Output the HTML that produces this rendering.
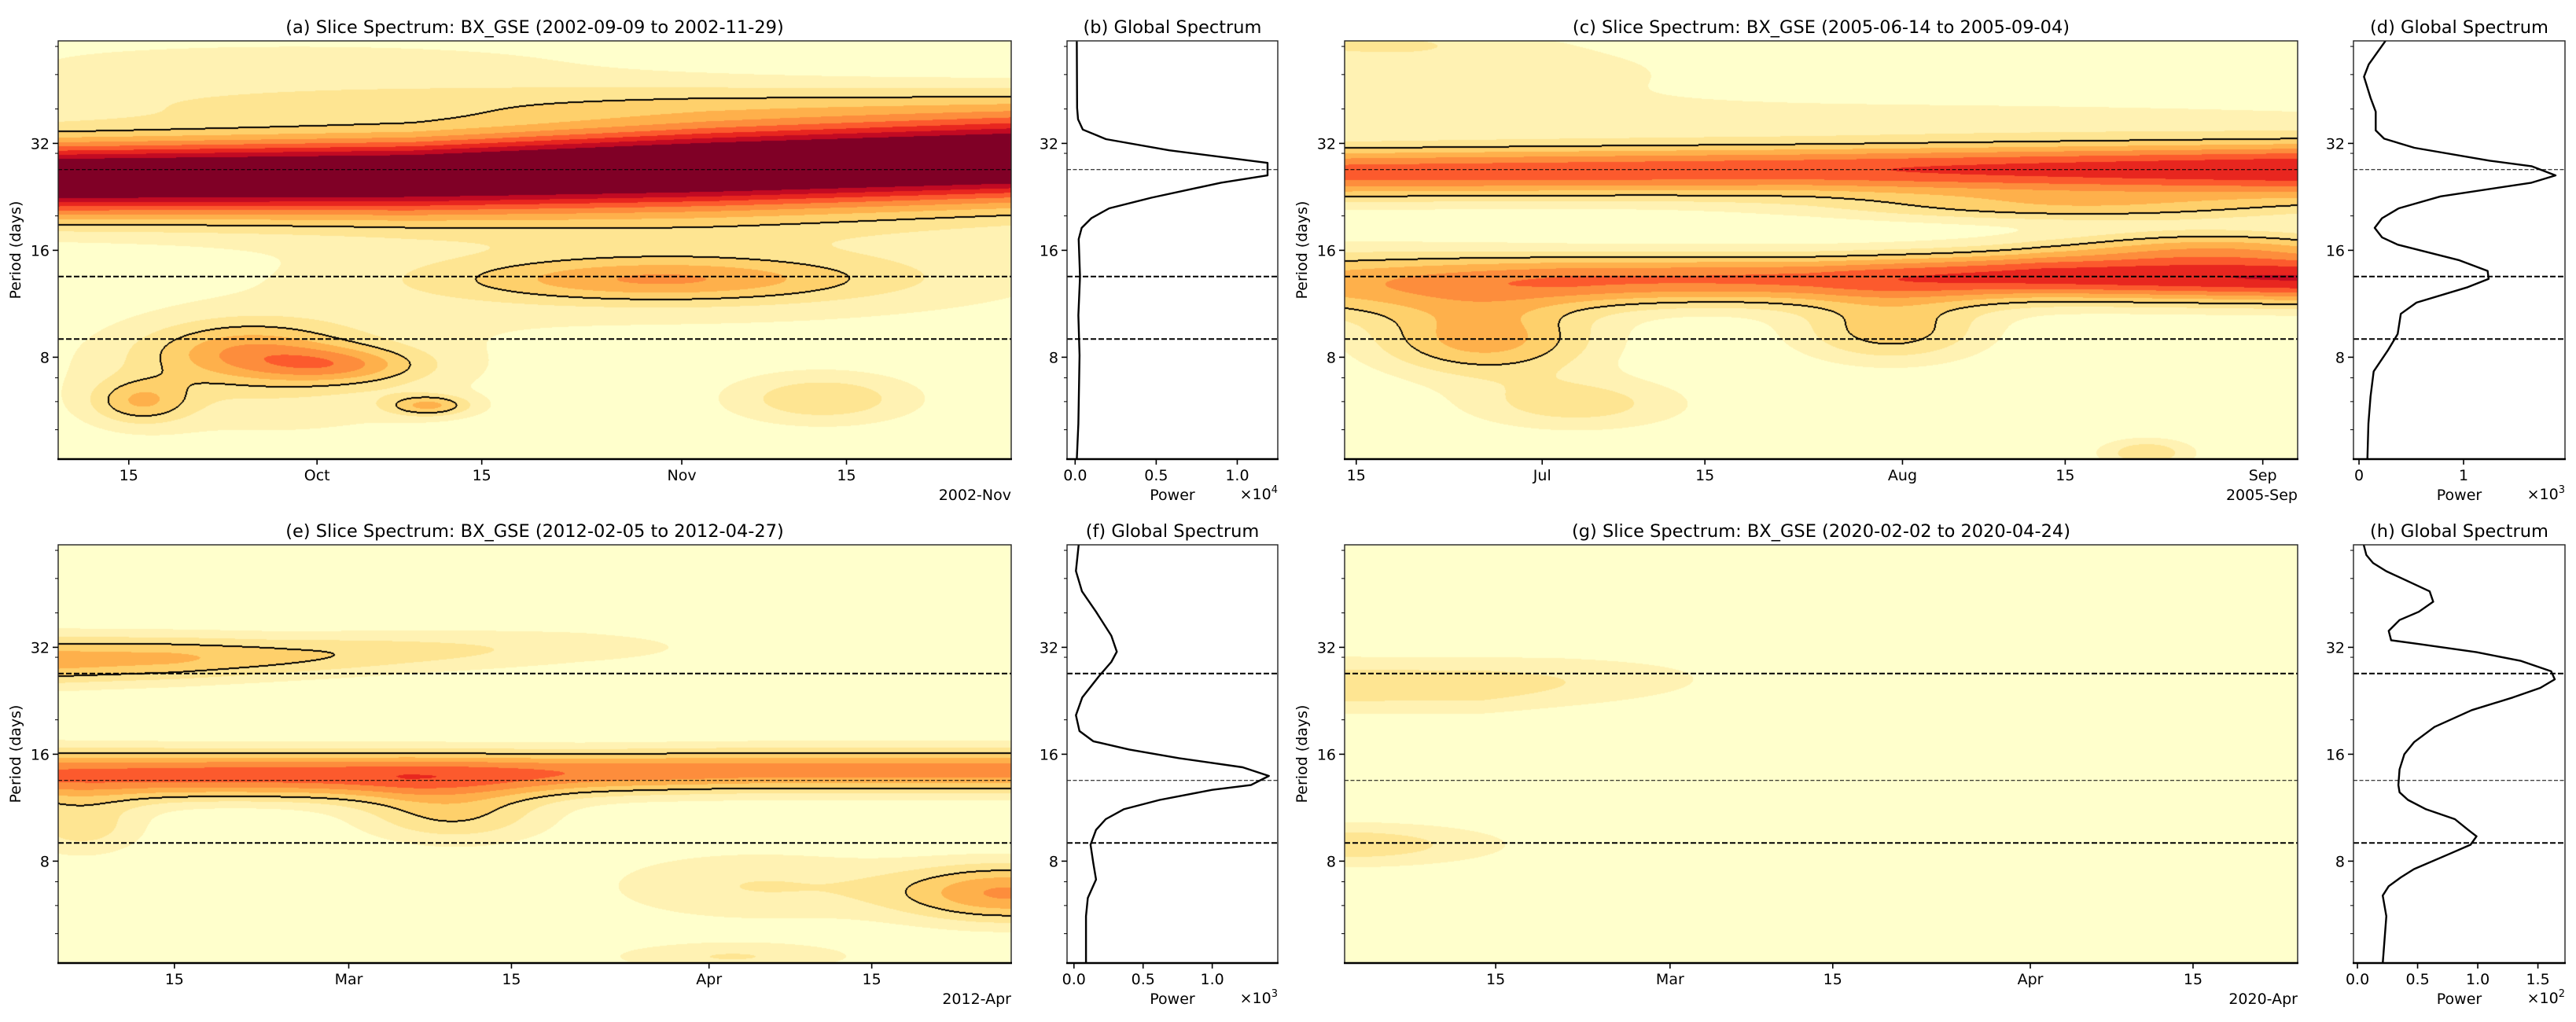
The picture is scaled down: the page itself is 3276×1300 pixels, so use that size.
<!DOCTYPE html>
<html><head><meta charset="utf-8">
<style>
body{margin:0;background:#fff;width:3276px;height:1300px;overflow:hidden;position:relative;font-family:"DejaVu Sans","Liberation Sans",sans-serif}
canvas{position:absolute}
svg{position:absolute;left:0;top:0}
</style></head>
<body>
<canvas id="cv-a" width="1212" height="532" style="left:74px;top:52px"></canvas>
<canvas id="cv-c" width="1212" height="532" style="left:1710px;top:52px"></canvas>
<canvas id="cv-e" width="1212" height="532" style="left:74px;top:693px"></canvas>
<canvas id="cv-g" width="1212" height="532" style="left:1710px;top:693px"></canvas>
<svg id="fig" width="3276" height="1300"></svg>
<script>
// ---------- DATA ----------
// Panel (a) bands: time (days from start), period (days), amplitude, width (octaves)
const aBandT=[0,30,55,81];
const aBandPeriod=[25.5,26,27.5,29];
const aBandAmp=[1.15,1.15,1.2,1.2];
const aBandWidth=[0.26,0.27,0.29,0.30];
// Panel (a) blobs
const aBlobT=[51,54,16,7,24,31.5,18,65,40,20];
const aBlobPeriod=[13.2,14,8.3,6.0,7.6,5.85,7,6.1,42,55];
const aBlobAmp=[0.32,0.2,0.34,0.3,0.3,0.34,0.18,0.28,0.2,0.12];
const aBlobSpan=[12,25,6,3,5,2.5,14,6,40,30];
const aBlobWidth=[0.14,0.4,0.2,0.15,0.12,0.07,0.45,0.18,0.15,0.2];

// Panel (c)
const cBand1T=[0,40,82];
const cBand1Period=[26.5,27,27];
const cBand1Amp=[0.65,0.68,0.8];
const cBand1Width=[0.18,0.18,0.2];
const cBand2T=[0,20,40,60,82];
const cBand2Period=[13,13.2,13.3,13.5,13.3];
const cBand2Amp=[0.45,0.6,0.62,0.75,0.8];
const cBand2Width=[0.22,0.18,0.17,0.17,0.17];
const cBlobT=[12,47,20,69,10,0,40,75,62];
const cBlobPeriod=[9.0,9.5,5.9,4.3,50,62,38,16.5,21];
const cBlobAmp=[0.45,0.35,0.25,0.28,0.18,0.15,0.15,0.3,0.25];
const cBlobSpan=[7,6,7,3,15,10,40,10,15];
const cBlobWidth=[0.25,0.22,0.18,0.1,0.25,0.1,0.12,0.12,0.1];

// Panel (e)
const eBand1T=[0,10,20,30,45,60];
const eBand1Period=[29.5,29.8,30.2,31,32,32];
const eBand1Amp=[0.45,0.42,0.33,0.25,0.15,0.05];
const eBand1Width=[0.17,0.16,0.15,0.15,0.15,0.15];
const eBand2T=[0,15,30,45,60,82];
const eBand2Period=[14,14,14,14.2,14.4,14.4];
const eBand2Amp=[0.62,0.66,0.66,0.58,0.55,0.55];
const eBand2Width=[0.17,0.16,0.16,0.15,0.15,0.15];
const eBlobT=[34,82,60,58,2];
const eBlobPeriod=[10.8,6.5,6.8,4.3,10];
const eBlobAmp=[0.3,0.5,0.2,0.2,0.25];
const eBlobSpan=[6,7,10,8,4];
const eBlobWidth=[0.2,0.2,0.25,0.1,0.2];

// Panel (g)
const gBandT=[0,12,19,30,40];
const gBandPeriod=[25,25,25.5,26,26];
const gBandAmp=[0.27,0.26,0.2,0.1,0];
const gBandWidth=[0.19,0.19,0.19,0.19,0.19];
const gBlobT=[0];
const gBlobPeriod=[8.9];
const gBlobAmp=[0.27];
const gBlobSpan=[9.8];
const gBlobWidth=[0.15];

// Global spectra
const bPeriod=[62,40.3,37.4,35.0,32.9,30.6,28.2,26.0,24.8,22.5,21.0,19.7,18.5,17.2,13.5,10.5,8.1,5.2,4.12];
const bPower=[0.01,0.012,0.018,0.047,0.19,0.58,1.187,1.187,0.90,0.47,0.21,0.10,0.04,0.022,0.03,0.02,0.027,0.02,0.01];
const dPeriod=[62.2,53.4,49.3,43.0,39.3,34.8,33,31.1,28.6,27.6,26.0,24.8,22.7,21.0,19.7,18.5,17.4,16.6,15.0,14.0,13.3,12.6,11.4,10.6,9.3,8.4,7.3,6.2,5.2,4.12];
const dPower=[0.253,0.093,0.048,0.11,0.16,0.16,0.24,0.53,1.25,1.65,1.88,1.65,0.78,0.38,0.22,0.15,0.22,0.37,0.96,1.23,1.24,1.04,0.55,0.40,0.37,0.28,0.14,0.11,0.09,0.08];
const fPeriod=[62.2,52.5,46.0,40.3,34.5,31.1,29.1,26.5,23.1,20.6,18.6,17.4,16.5,15.6,14.7,13.9,13.1,12.7,11.9,11.2,10.5,9.8,8.9,7.9,7.1,6.3,5.6,4.12];
const fPower=[0.034,0.014,0.058,0.16,0.27,0.31,0.27,0.18,0.06,0.014,0.04,0.14,0.40,0.76,1.22,1.41,1.28,1.00,0.62,0.36,0.23,0.16,0.12,0.14,0.16,0.10,0.087,0.087];
const hPeriod=[62.2,58.2,55.3,52.4,46.0,43.0,40.3,38.2,35.6,33.5,32.7,31,29.3,27.4,26.0,24.6,23.1,21.3,19.1,17.3,16.0,14.5,13.1,12.5,11.9,11.2,10.5,9.8,9.4,8.9,8.4,7.6,7.2,6.8,6.4,5.6,4.12];
const hPower=[0.052,0.074,0.13,0.24,0.60,0.63,0.51,0.35,0.26,0.28,0.51,0.99,1.36,1.61,1.64,1.52,1.29,0.95,0.64,0.47,0.39,0.35,0.34,0.35,0.42,0.57,0.81,0.92,0.99,0.94,0.77,0.47,0.36,0.26,0.21,0.24,0.21];

// Ticks
const periodTicks=[32,16,8];
const periodMinor=[5,6,7,20,30,40,50,60];
const refPeriods=[27,13.5,9];
const aTickDays=[6,22,36,53,67];
const aTickLabels=['15','Oct','15','Nov','15'];
const cTickDays=[1,17,31,48,62,79];
const cTickLabels=['15','Jul','15','Aug','15','Sep'];
const eTickDays=[10,25,39,56,70];
const eTickLabels=['15','Mar','15','Apr','15'];
const gTickDays=[13,28,42,59,73];
const gTickLabels=['15','Mar','15','Apr','15'];
const bTicks=[0,0.5,1.0], bTickLabels=['0.0','0.5','1.0'];
const dTicks=[0,1], dTickLabels=['0','1'];
const fTicks=[0,0.5,1.0], fTickLabels=['0.0','0.5','1.0'];
const hTicks=[0,0.5,1.0,1.5], hTickLabels=['0.0','0.5','1.0','1.5'];

// ---------- LAYOUT ----------
const NS='http://www.w3.org/2000/svg';
const svg=document.getElementById('fig');
const rowTop=[52,693], PH=532, LTOP=Math.log2(62.2), OCT=136, TH=0.3;
const PAL=['#ffffcc','#fff2b3','#fee592','#fed06b','#feb04b','#fd8d3c','#fc5a2d','#e8261f','#c20a23','#800026'].map(h=>[parseInt(h.slice(1,3),16),parseInt(h.slice(3,5),16),parseInt(h.slice(5,7),16)]);
function yOf(row,p){return rowTop[row]+(LTOP-Math.log2(p))*OCT;}
function mk(tag,attrs,parent){const e=document.createElementNS(NS,tag);for(const k in attrs)e.setAttribute(k,attrs[k]);(parent||svg).appendChild(e);return e;}
function interp(xs,ys,t){if(t<=xs[0])return ys[0];for(let i=1;i<xs.length;i++){if(t<=xs[i]){const f=(t-xs[i-1])/(xs[i]-xs[i-1]);return ys[i-1]+f*(ys[i]-ys[i-1]);}}return ys[ys.length-1];}

const heatPanels=[
 {id:'a',x:74,row:0,span:81,thin:0,bands:[[aBandT,aBandPeriod,aBandAmp,aBandWidth]],blobs:[aBlobT,aBlobPeriod,aBlobAmp,aBlobSpan,aBlobWidth],
  title:'(a) Slice Spectrum: BX_GSE (2002-09-09 to 2002-11-29)',ticks:aTickDays,labels:aTickLabels,offset:'2002-Nov'},
 {id:'c',x:1710,row:0,span:82,thin:0,bands:[[cBand1T,cBand1Period,cBand1Amp,cBand1Width],[cBand2T,cBand2Period,cBand2Amp,cBand2Width]],blobs:[cBlobT,cBlobPeriod,cBlobAmp,cBlobSpan,cBlobWidth],
  title:'(c) Slice Spectrum: BX_GSE (2005-06-14 to 2005-09-04)',ticks:cTickDays,labels:cTickLabels,offset:'2005-Sep'},
 {id:'e',x:74,row:1,span:82,thin:1,bands:[[eBand1T,eBand1Period,eBand1Amp,eBand1Width],[eBand2T,eBand2Period,eBand2Amp,eBand2Width]],blobs:[eBlobT,eBlobPeriod,eBlobAmp,eBlobSpan,eBlobWidth],
  title:'(e) Slice Spectrum: BX_GSE (2012-02-05 to 2012-04-27)',ticks:eTickDays,labels:eTickLabels,offset:'2012-Apr'},
 {id:'g',x:1710,row:1,span:82,thin:1,bands:[[gBandT,gBandPeriod,gBandAmp,gBandWidth]],blobs:[gBlobT,gBlobPeriod,gBlobAmp,gBlobSpan,gBlobWidth],
  title:'(g) Slice Spectrum: BX_GSE (2020-02-02 to 2020-04-24)',ticks:gTickDays,labels:gTickLabels,offset:'2020-Apr'}
];
const globPanels=[
 {id:'b',x:1357,w:268,row:0,thin:0,xmin:-0.05,xmax:1.25,per:bPeriod,pow:bPower,ticks:bTicks,labels:bTickLabels,exp:'4',title:'(b) Global Spectrum'},
 {id:'d',x:2993,w:269,row:0,thin:0,xmin:-0.053,xmax:1.97,per:dPeriod,pow:dPower,ticks:dTicks,labels:dTickLabels,exp:'3',title:'(d) Global Spectrum'},
 {id:'f',x:1357,w:268,row:1,thin:1,xmin:-0.05,xmax:1.474,per:fPeriod,pow:fPower,ticks:fTicks,labels:fTickLabels,exp:'3',title:'(f) Global Spectrum'},
 {id:'h',x:2993,w:269,row:1,thin:1,xmin:-0.033,xmax:1.725,per:hPeriod,pow:hPower,ticks:hTicks,labels:hTickLabels,exp:'2',title:'(h) Global Spectrum'}
];

function drawHeat(p){
 const cv=document.getElementById('cv-'+p.id);const ctx=cv.getContext('2d');const W=cv.width,H=cv.height;
 const F=new Float32Array(W*H);const B=p.blobs;
 for(let x=0;x<W;x++){
  const t=(x+0.5)/W*p.span;
  const bp=p.bands.map(b=>[Math.log2(interp(b[0],b[1],t)),interp(b[0],b[2],t),interp(b[0],b[3],t)]);
  const bl=[];
  for(let k=0;k<B[0].length;k++){const dt=(t-B[0][k])/B[3][k];const g=B[2][k]*Math.exp(-dt*dt/2);if(g>1e-4)bl.push([Math.log2(B[1][k]),g,B[4][k]]);}
  for(let y=0;y<H;y++){
   const lp=LTOP-(y+0.5)/OCT;let v=0;
   for(const b of bp){const d=(lp-b[0])/b[2];v+=b[1]*Math.exp(-d*d/2);}
   for(const b of bl){const d=(lp-b[0])/b[2];v+=b[1]*Math.exp(-d*d/2);}
   F[y*W+x]=v;
  }
 }
 const img=ctx.createImageData(W,H);const D=img.data;
 for(let i=0;i<W*H;i++){let idx=Math.floor(F[i]*10);idx=Math.max(0,Math.min(9,idx));const c=PAL[idx];D[i*4]=c[0];D[i*4+1]=c[1];D[i*4+2]=c[2];D[i*4+3]=255;}
 const mark=i=>{D[i*4]=0;D[i*4+1]=0;D[i*4+2]=0;};
 for(let y=0;y<H;y++)for(let x=0;x<W;x++){
  const i=y*W+x;const ins=F[i]>=TH;
  if(x<W-1&&ins!==(F[i+1]>=TH)){mark(i);mark(i+1);}
  if(y<H-1&&ins!==(F[i+W]>=TH)){mark(i);mark(i+W);}
 }
 ctx.putImageData(img,0,0);
}

function yAxis(x0,row,name,withLabel,labelX){
 for(const p of periodTicks){
  const y=yOf(row,p);
  const tk=mk('line',{x1:x0-7,y1:y,x2:x0,y2:y,stroke:'#000','stroke-width':1.6});
  
  
  const tx=mk('text',{x:x0-11,y:y+7,'text-anchor':'end','font-size':19,fill:'#000'});
  tx.textContent=String(p);
  
  
 }
 for(const p of periodMinor){
  const y=yOf(row,p);
  const tk=mk('line',{x1:x0-4,y1:y,x2:x0,y2:y,stroke:'#000','stroke-width':1});
  
  
 }
 if(withLabel){
  const cy=rowTop[row]+PH/2;
  const yl=mk('text',{x:labelX,y:cy,'text-anchor':'middle','font-size':19,fill:'#000',transform:'rotate(-90 '+labelX+' '+cy+')'});
  yl.textContent='Period (days)';
  
  
 }
}
function refLines(x0,w,row,thin,name){
 refPeriods.forEach((p,i)=>{
  const y=yOf(row,p);const isThin=(i===thin);
  const ln=mk('line',{x1:x0,y1:y,x2:x0+w,y2:y,stroke:'#000','stroke-width':isThin?1.1:2,'stroke-dasharray':isThin?'5,2.5':'7,3'});
  
  
 });
}
function frame(x0,w,row,name){
 const y0=rowTop[row];
 const r=mk('rect',{x:x0,y:y0,width:w,height:PH,fill:'none',stroke:'#222','stroke-width':1.4});
 
 
 const bl=mk('line',{x1:x0-1,y1:y0+PH,x2:x0+w+1,y2:y0+PH,stroke:'#000','stroke-width':2.4});
 
 
}
function title(x0,w,row,txt,name){
 const t=mk('text',{x:x0+w/2,y:rowTop[row]-10,'text-anchor':'middle','font-size':22.5,fill:'#000'});
 t.textContent=txt;
 
 
}

for(const p of heatPanels){
 drawHeat(p);
 const W=1212, y0=rowTop[p.row], yb=y0+PH;
 refLines(p.x,W,p.row,p.thin,'panel-'+p.id);
 frame(p.x,W,p.row,'panel-'+p.id);
 title(p.x,W,p.row,p.title,'panel-'+p.id);
 yAxis(p.x,p.row,'panel-'+p.id,true,p.x-48);
 p.ticks.forEach((d,i)=>{
  const x=p.x+d/p.span*W;
  const tk=mk('line',{x1:x,y1:yb,x2:x,y2:yb+7,stroke:'#000','stroke-width':1.6});
  
  
  const tx=mk('text',{x:x,y:yb+27,'text-anchor':'middle','font-size':19,fill:'#000'});
  tx.textContent=p.labels[i];
  
  
 });
 const off=mk('text',{x:p.x+W,y:yb+52,'text-anchor':'end','font-size':19,fill:'#000'});
 off.textContent=p.offset;
 
 
}

for(const g of globPanels){
 const y0=rowTop[g.row], yb=y0+PH;
 const xs=v=>g.x+(v-g.xmin)/(g.xmax-g.xmin)*g.w;
 const cp=mk('clipPath',{id:'clip-'+g.id});
 mk('rect',{x:g.x,y:y0,width:g.w,height:PH},cp);
 const pl=mk('polyline',{points:g.per.map((p,i)=>xs(g.pow[i]).toFixed(1)+','+yOf(g.row,p).toFixed(1)).join(' '),fill:'none',stroke:'#000','stroke-width':2.4,'stroke-linejoin':'round','clip-path':'url(#clip-'+g.id+')'});
 
 
 refLines(g.x,g.w,g.row,g.thin,'panel-'+g.id);
 frame(g.x,g.w,g.row,'panel-'+g.id);
 title(g.x,g.w,g.row,g.title,'panel-'+g.id);
 yAxis(g.x,g.row,'panel-'+g.id,false,0);
 g.ticks.forEach((v,i)=>{
  const x=xs(v);
  const tk=mk('line',{x1:x,y1:yb,x2:x,y2:yb+7,stroke:'#000','stroke-width':1.6});
  
  
  const tx=mk('text',{x:x,y:yb+27,'text-anchor':'middle','font-size':19,fill:'#000'});
  tx.textContent=g.labels[i];
  
  
 });
 const xl=mk('text',{x:g.x+g.w/2,y:yb+52,'text-anchor':'middle','font-size':19,fill:'#000'});
 xl.textContent='Power';
 
 
 const ex=mk('text',{x:g.x+g.w,y:yb+51,'text-anchor':'end','font-size':19,fill:'#000'});
 ex.textContent='×10';
 const sup=mk('tspan',{dy:-8,'font-size':13},ex);
 sup.textContent=g.exp;
 
 
}
</script>
</body></html>
